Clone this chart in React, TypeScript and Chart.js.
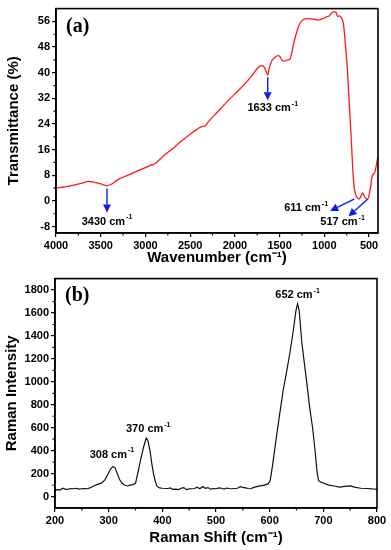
import React, { useEffect, useRef } from 'react';
import { Chart, registerables } from 'chart.js';
Chart.register(...registerables);

// ---------- DATA ----------
const ftirWavenumber = [4000, 3900, 3800, 3700, 3640, 3580, 3500, 3430, 3380, 3300, 3200, 3100, 3000, 2940, 2910, 2880, 2800, 2700, 2600, 2500, 2420, 2370, 2340, 2300, 2200, 2100, 2000, 1900, 1800, 1740, 1700, 1680, 1655, 1633, 1615, 1590, 1550, 1520, 1495, 1470, 1440, 1410, 1385, 1370, 1340, 1300, 1270, 1240, 1200, 1150, 1100, 1060, 1030, 1000, 980, 950, 920, 890, 870, 855, 830, 805, 785, 765, 740, 720, 700, 680, 665, 645, 625, 611, 590, 573, 555, 535, 517, 500, 480, 465, 450, 435, 420, 400];
const ftirTransmittance = [4.0, 4.4, 4.9, 5.6, 6.1, 5.9, 5.3, 4.8, 5.2, 6.8, 8.0, 9.2, 10.4, 11.2, 11.4, 11.9, 14.0, 16.2, 18.6, 20.8, 22.4, 23.2, 23.3, 24.6, 27.6, 30.6, 33.4, 36.2, 39.4, 41.6, 42.2, 42.0, 40.8, 39.2, 41.5, 43.6, 44.8, 45.3, 45.0, 43.8, 43.6, 44.0, 44.2, 45.5, 49.5, 53.5, 55.5, 56.5, 56.9, 56.8, 56.6, 56.4, 56.8, 57.0, 57.4, 57.6, 58.6, 59.0, 58.9, 57.6, 57.7, 57.0, 55.0, 49.0, 40.0, 30.0, 20.0, 9.0, 4.0, 1.6, 0.8, 0.6, 1.5, 2.5, 1.6, 0.8, 0.5, 1.8, 5.0, 7.8, 8.4, 9.0, 11.0, 14.0];

const ramanShift = [200, 205, 210, 215, 220, 225, 230, 235, 240, 245, 250, 255, 260, 265, 270, 278, 287, 293, 298, 303, 308, 312, 316, 320, 325, 330, 335, 340, 345, 350, 355, 360, 365, 370, 373, 377, 380, 383, 387, 390, 395, 400, 410, 415, 420, 425, 430, 435, 440, 445, 450, 460, 465, 470, 475, 480, 485, 490, 495, 500, 505, 510, 515, 520, 525, 530, 540, 545, 550, 555, 560, 565, 570, 580, 590, 597, 601, 605, 612, 619, 625, 632, 638, 645, 649, 652, 655, 660, 665, 670, 675, 680, 685, 688, 691, 695, 700, 710, 720, 730, 740, 750, 760, 770, 780, 790, 800];
const ramanIntensity = [55, 60, 58, 72, 62, 65, 70, 68, 72, 64, 68, 70, 68, 75, 88, 104, 119, 145, 190, 235, 262, 250, 200, 150, 115, 100, 92, 100, 104, 115, 220, 330, 430, 510, 490, 400, 300, 210, 130, 90, 75, 72, 70, 75, 62, 65, 60, 72, 78, 60, 66, 70, 82, 68, 88, 72, 78, 64, 70, 68, 76, 72, 65, 74, 70, 68, 72, 86, 80, 75, 70, 68, 80, 90, 100, 110, 140, 260, 500, 730, 920, 1100, 1260, 1480, 1620, 1680, 1620, 1340, 1150, 960, 760, 600, 380, 230, 140, 125, 118, 100, 92, 82, 88, 92, 80, 72, 70, 66, 65];

const ftirXTicks = [4000, 3500, 3000, 2500, 2000, 1500, 1000, 500];
const ftirYTicks = [-8, 0, 8, 16, 24, 32, 40, 48, 56];
const ramanXTicks = [200, 300, 400, 500, 600, 700, 800];
const ramanYTicks = [0, 200, 400, 600, 800, 1000, 1200, 1400, 1600, 1800];

const ftirPeaks = [3430, 1633, 611, 517];
const ramanPeaks = [308, 370, 652];

// ---------- STYLE ----------
const SANS = '"Liberation Sans", Arial, sans-serif';
const SERIF = '"Liberation Serif", "Times New Roman", serif';

// arrow/label offsets (pixels) per FTIR peak
const ftirArrowStyle: Record<number, any> = {
  3430: { s: [0, 3], e: [0, 27], t: [0, 36] },
  1633: { s: [0, 2], e: [0, 25], t: [5, 33] },
  611: { s: [-5, 0], e: [-29, 12], t: [-53, 9] },
  517: { s: [0, 0], e: [-19, 17], t: [-25, 23] },
};
const ramanLabelStyle: Record<number, number[]> = {
  308: [-1, -12],
  370: [2, -9],
  652: [0, -9],
};

function nearestIndex(xs: number[], v: number) {
  let bi = 0;
  for (let i = 1; i < xs.length; i++) if (Math.abs(xs[i] - v) < Math.abs(xs[bi] - v)) bi = i;
  return bi;
}

function drawSupLabel(ctx: CanvasRenderingContext2D, base: string, sup: string, cx: number, cy: number) {
  ctx.save();
  ctx.fillStyle = '#000';
  ctx.textBaseline = 'middle';
  ctx.textAlign = 'left';
  ctx.font = `bold 11px ${SANS}`;
  const wb = ctx.measureText(base).width;
  ctx.font = `bold 7px ${SANS}`;
  const ws = ctx.measureText(sup).width;
  const x0 = cx - (wb + ws + 1) / 2;
  ctx.font = `bold 11px ${SANS}`;
  ctx.fillText(base, x0, cy);
  ctx.font = `bold 7px ${SANS}`;
  ctx.fillText(sup, x0 + wb + 1, cy - 4);
  ctx.restore();
}

function drawArrow(ctx: CanvasRenderingContext2D, x1: number, y1: number, x2: number, y2: number) {
  ctx.save();
  ctx.strokeStyle = '#0a1cf0';
  ctx.fillStyle = '#0a1cf0';
  ctx.lineWidth = 1.4;
  const ang = Math.atan2(y2 - y1, x2 - x1);
  const hl = 8, hw = 4;
  const bx = x2 - hl * Math.cos(ang), by = y2 - hl * Math.sin(ang);
  ctx.beginPath();
  ctx.moveTo(x1, y1);
  ctx.lineTo(bx, by);
  ctx.stroke();
  ctx.beginPath();
  ctx.moveTo(x2, y2);
  ctx.lineTo(bx + hw * Math.sin(ang), by - hw * Math.cos(ang));
  ctx.lineTo(bx - hw * Math.sin(ang), by + hw * Math.cos(ang));
  ctx.closePath();
  ctx.fill();
  ctx.restore();
}

function minorsOf(majors: number[], min: number, max: number) {
  const s = [...majors].sort((a, b) => a - b);
  const step = s[1] - s[0];
  const out: number[] = [];
  for (let v = s[0] - step / 2; v <= s[s.length - 1] + step / 2; v += step) {
    if (v > min && v < max) out.push(v);
  }
  return out;
}

const framePlugin = {
  id: 'frame',
  afterDraw(chart: any, _args: any, opts: any) {
    const { ctx, chartArea: a, scales } = chart;
    ctx.save();
    ctx.strokeStyle = '#000';
    ctx.lineWidth = 1.2;
    ctx.beginPath();
    for (const v of opts.xMinor) {
      const p = scales.x.getPixelForValue(v);
      ctx.moveTo(p, a.bottom);
      ctx.lineTo(p, a.bottom + 2.5);
    }
    for (const v of opts.yMinor) {
      const p = scales.y.getPixelForValue(v);
      ctx.moveTo(a.left, p);
      ctx.lineTo(a.left - 2.5, p);
    }
    ctx.stroke();
    ctx.lineWidth = 1.6;
    ctx.strokeRect(a.left, a.top, a.right - a.left, a.bottom - a.top);
    ctx.fillStyle = '#000';
    ctx.font = `bold 20px ${SERIF}`;
    ctx.textBaseline = 'middle';
    ctx.textAlign = 'left';
    ctx.fillText(opts.panel, a.left + 10, a.top + opts.panelDy);
    ctx.restore();
    if (opts.annotate) opts.annotate(chart);
  },
};

function ftirAnnotate(chart: any) {
  const { ctx, scales } = chart;
  for (const pk of ftirPeaks) {
    const i = nearestIndex(ftirWavenumber, pk);
    const px = scales.x.getPixelForValue(pk);
    const py = scales.y.getPixelForValue(ftirTransmittance[i]);
    const st = ftirArrowStyle[pk];
    drawArrow(ctx, px + st.s[0], py + st.s[1], px + st.e[0], py + st.e[1]);
    drawSupLabel(ctx, `${pk} cm`, '-1', px + st.t[0], py + st.t[1]);
  }
}

function ramanAnnotate(chart: any) {
  const { scales, ctx } = chart;
  for (const pk of ramanPeaks) {
    const i = nearestIndex(ramanShift, pk);
    const px = scales.x.getPixelForValue(pk);
    const py = scales.y.getPixelForValue(ramanIntensity[i]);
    const o = ramanLabelStyle[pk];
    drawSupLabel(ctx, `${pk} cm`, '-1', px + o[0], py + o[1]);
  }
}

function axisCommon(ticks: number[], widthOrHeight: number, isY: boolean) {
  return {
    type: 'linear',
    afterBuildTicks: (scale: any) => {
      scale.ticks = ticks.map((v) => ({ value: v }));
    },
    afterFit: (scale: any) => {
      if (isY) scale.width = widthOrHeight;
      else scale.height = widthOrHeight;
    },
    grid: {
      display: true,
      drawOnChartArea: false,
      drawTicks: true,
      tickLength: 4,
      color: '#000',
      lineWidth: 1.2,
    },
    border: { display: true, color: '#000', width: 1.6 },
    ticks: {
      color: '#000',
      padding: 2,
      maxRotation: 0,
      autoSkip: false,
      callback: (v: any) => String(v),
      font: { family: SANS, weight: 'bold', size: 11 },
    },
  };
}

function makeTitle(text: string, pad: any) {
  return {
    display: true,
    text,
    color: '#000',
    padding: pad,
    font: { family: SANS, weight: 'bold', size: 15 },
  };
}

export default function App() {
  const refA = useRef<HTMLCanvasElement>(null);
  const refB = useRef<HTMLCanvasElement>(null);

  useEffect(() => {
    const xa: any = axisCommon(ftirXTicks, 37, false);
    xa.min = 400;
    xa.max = 4000;
    xa.reverse = true;
    xa.title = makeTitle('Wavenumber (cm⁻¹)', { top: 0, bottom: 3 });
    const ya: any = axisCommon(ftirYTicks, 56, true);
    ya.min = -10;
    ya.max = 60;
    ya.title = makeTitle('Transmittance (%)', { top: 5, bottom: 0 });

    const chartA = new Chart(refA.current as HTMLCanvasElement, {
      type: 'line',
      data: {
        datasets: [
          {
            data: ftirWavenumber.map((x, i) => ({ x, y: ftirTransmittance[i] })),
            borderColor: '#ff1a1a',
            borderWidth: 1.3,
            pointRadius: 0,
            cubicInterpolationMode: 'monotone',
            fill: false,
          },
        ],
      },
      options: {
        responsive: false,
        animation: false,
        events: [],
        layout: { padding: { top: 3, right: 13, left: 0, bottom: 0 } },
        plugins: {
          legend: { display: false },
          tooltip: { enabled: false },
          frame: {
            xMinor: minorsOf(ftirXTicks, 400, 4000),
            yMinor: minorsOf(ftirYTicks, -10, 60),
            panel: '(a)',
            panelDy: 18,
            annotate: ftirAnnotate,
          },
        } as any,
        scales: { x: xa, y: ya },
      } as any,
      plugins: [framePlugin as any],
    });

    const xb: any = axisCommon(ramanXTicks, 42, false);
    xb.min = 200;
    xb.max = 800;
    xb.title = makeTitle('Raman Shift (cm⁻¹)', { top: 0, bottom: 3 });
    const yb: any = axisCommon(ramanYTicks, 55, true);
    yb.min = -100;
    yb.max = 1900;
    yb.title = makeTitle('Raman Intensity', { top: 3, bottom: 0 });

    const chartB = new Chart(refB.current as HTMLCanvasElement, {
      type: 'line',
      data: {
        datasets: [
          {
            data: ramanShift.map((x, i) => ({ x, y: ramanIntensity[i] })),
            borderColor: '#111',
            borderWidth: 1.2,
            pointRadius: 0,
            tension: 0,
            fill: false,
          },
        ],
      },
      options: {
        responsive: false,
        animation: false,
        events: [],
        layout: { padding: { top: 8, right: 14, left: 0, bottom: 0 } },
        plugins: {
          legend: { display: false },
          tooltip: { enabled: false },
          frame: {
            xMinor: minorsOf(ramanXTicks, 200, 800),
            yMinor: minorsOf(ramanYTicks, -100, 1900),
            panel: '(b)',
            panelDy: 17,
            annotate: ramanAnnotate,
          },
        } as any,
        scales: { x: xb, y: yb },
      } as any,
      plugins: [framePlugin as any],
    });

    return () => {
      chartA.destroy();
      chartB.destroy();
    };
  }, []);

  return (
    <div style={{ position: 'fixed', left: 0, top: 0, width: 391, height: 550, background: '#fff' }}>
      <canvas ref={refA} width={391} height={270} style={{ display: 'block', width: 391, height: 270 }} />
      <canvas ref={refB} width={391} height={280} style={{ display: 'block', width: 391, height: 280 }} />
    </div>
  );
}
